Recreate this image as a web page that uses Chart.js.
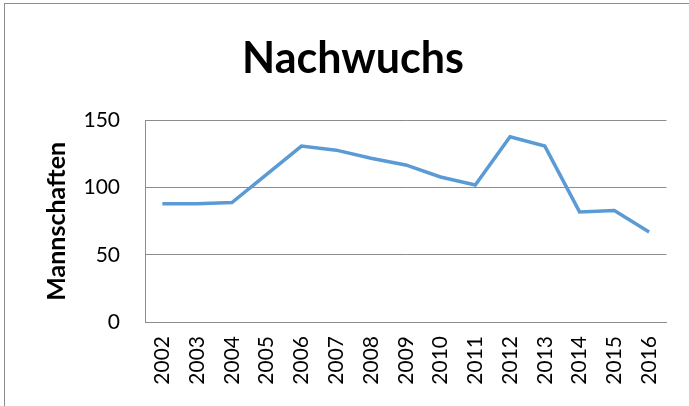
<!DOCTYPE html>
<html>
<head>
<meta charset="utf-8">
<script src="https://cdn.jsdelivr.net/npm/chart.js@4/dist/chart.umd.min.js"></script>
<style>
    html, body { margin: 0; padding: 0; background: #fff; overflow: hidden; }
    #wrap { position: relative; width: 689px; height: 406px; }
    #frame { position: absolute; left: 4px; top: 3px; width: 700px; height: 420px; border: 1px solid #8c8c8c; }
    canvas { position: absolute; left: 0; top: 0; }
</style>
</head>
<body>
<div id="wrap">
    <div id="frame"></div>
    <canvas id="chart" width="689" height="406"></canvas>
</div>
<script>
// Nachwuchs - Mannschaften pro Jahr
const years = ['2002', '2003', '2004', '2005', '2006', '2007', '2008', '2009',
               '2010', '2011', '2012', '2013', '2014', '2015', '2016'];
const teams = [88, 88, 89, 110, 131, 128, 122, 117, 108, 102, 138, 131, 82, 83, 67];
const yTicks = [0, 50, 100, 150];

const ctx = document.getElementById('chart').getContext('2d');

new Chart(ctx, {
    type: 'line',
    data: {
        labels: years,
        datasets: [{
            label: 'Nachwuchs',
            data: teams,
            borderColor: '#5b9bd5',
            borderWidth: 3.5,
            pointRadius: 0,
            tension: 0,
            fill: false
        }]
    },
    options: {
        responsive: false,
        animation: false,
        // left padding shifts the title centre to match the original
        layout: { padding: { left: 38, right: 21, top: 0, bottom: 0 } },
        plugins: {
            legend: { display: false },
            tooltip: { enabled: false },
            title: {
                display: true,
                text: 'Nachwuchs',
                color: '#000',
                font: { family: 'Lato', size: 43, weight: 'bold' },
                padding: { top: 33, bottom: 36 }
            }
        },
        scales: {
            x: {
                offset: true,
                grid: { display: false, drawTicks: false },
                border: { display: true, color: '#8c8c8c', width: 1 },
                ticks: {
                    color: '#000',
                    font: { family: 'Lato', size: 21 },
                    minRotation: 90,
                    maxRotation: 90,
                    autoSkip: false,
                    padding: 14
                },
                afterFit: scale => { scale.height = 84; }
            },
            y: {
                min: 0,
                max: 150,
                afterBuildTicks: scale => { scale.ticks = yTicks.map(v => ({ value: v })); },
                grid: { color: '#8c8c8c', lineWidth: 1, drawTicks: false },
                border: { display: true, color: '#8c8c8c', width: 1 },
                ticks: {
                    color: '#000',
                    font: { family: 'Lato', size: 21 },
                    padding: 25
                },
                title: {
                    display: true,
                    text: 'Mannschaften',
                    color: '#000',
                    font: { family: 'Lato', size: 25, weight: 'bold' },
                    padding: { top: 4, bottom: 0 }
                },
                afterFit: scale => { scale.width = 107; }
            }
        }
    }
});
</script>
</body>
</html>
